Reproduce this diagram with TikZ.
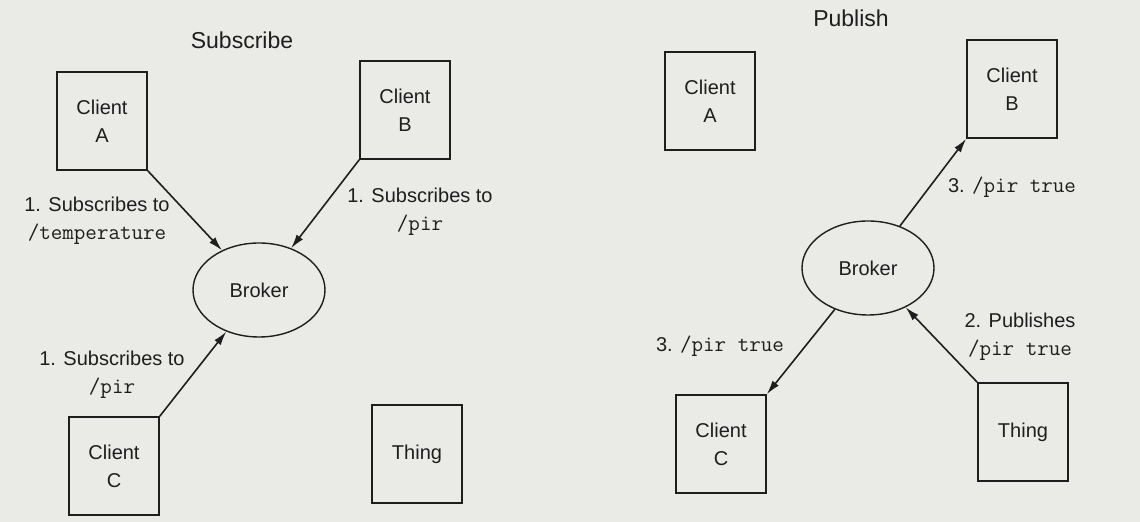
\documentclass[tikz,border=0pt]{standalone}
\usepackage{fontspec}
\setmainfont{Liberation Sans}
\usetikzlibrary{arrows.meta, shapes.geometric}
\definecolor{page}{RGB}{234,234,231}
\definecolor{ink}{RGB}{30,30,30}

\begin{document}
\begin{tikzpicture}[x=0.5pt, y=-0.5pt, font=\fontsize{10}{12}\selectfont, text=ink,
        box/.style={draw=ink, line width=0.8pt, minimum width=45pt, minimum height=49pt, align=center},
        hub/.style={draw=ink, line width=0.7pt, ellipse, minimum width=66pt, minimum height=47pt},
        lbl/.style={align=center, inner sep=0pt},
        head/.style={font=\fontsize{11.5}{14}\selectfont},
        link/.style={draw=ink, line width=0.8pt},
        ->, >={Latex[length=7pt, width=4pt]}]
        \fill[page, -] (0,0) rectangle (1140,522);
        \useasboundingbox (0,0) rectangle (1140,522);

        \node[head] (sub) at (242,40) {Subscribe};
        \node[box] (sa) at (102,121) {Client\\[2pt]A};
        \node[box] (sb) at (405,110) {Client\\[2pt]B};
        \node[hub] (sbrk) at (259,290) {Broker};
        \node[box] (sc) at (114,466) {Client\\[2pt]C};
        \node[box] (st) at (417,454) {Thing};
        \node[lbl] (sl1) at (97,221) {1. Subscribes to\\[2pt]{\fontsize{11.2}{13}\ttfamily/temperature}};
        \node[lbl] (sl2) at (420,212) {1. Subscribes to\\[2pt]{\fontsize{11.2}{13}\ttfamily/pir}};
        \node[lbl] (sl3) at (112,375) {1. Subscribes to\\[2pt]{\fontsize{11.2}{13}\ttfamily/pir}};

        \node[head] (pub) at (851,18) {Publish};
        \node[box] (pa) at (710,101) {Client\\[2pt]A};
        \node[box] (pb) at (1012,89) {Client\\[2pt]B};
        \node[hub] (pbrk) at (868,268) {Broker};
        \node[box] (pc) at (721,444) {Client\\[2pt]C};
        \node[box] (pt) at (1023,432) {Thing};
        \node[lbl] (pl1) at (1012,187) {3. {\fontsize{11.2}{13}\ttfamily/pir true}};
        \node[lbl] (pl2) at (720,346) {3. {\fontsize{11.2}{13}\ttfamily/pir true}};
        \node[lbl] (pl3) at (1020,337) {2. Publishes\\[2pt]{\fontsize{11.2}{13}\ttfamily/pir true}};

        \draw[link] (sa.south east) -- (sbrk);
        \draw[link] (sb.south west) -- (sbrk);
        \draw[link] (sc.north east) -- (sbrk);
        \draw[link] (pbrk) -- (pb.south west);
        \draw[link] (pbrk) -- (pc.north east);
        \draw[link] (pt.north west) -- (pbrk);
\end{tikzpicture}
\end{document}
